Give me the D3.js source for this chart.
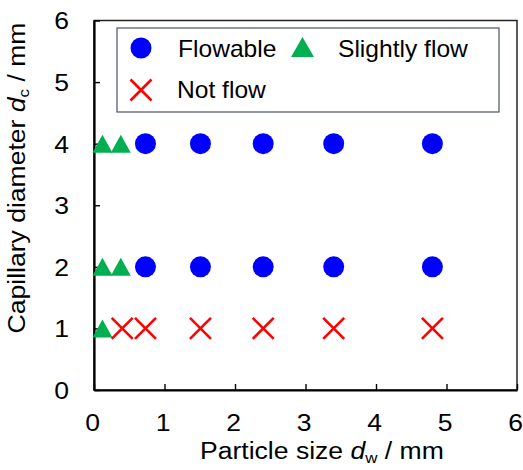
<!DOCTYPE html>
<html>
<head>
<meta charset="utf-8">
<style>
  body { margin: 0; background: #fff; }
  text { font-family: "Liberation Sans", Arial, sans-serif; fill: #000; }
</style>
</head>
<body>
<svg width="523" height="470"></svg>
<script src="https://d3js.org/d3.v7.min.js"></script>
<script>
  // particle size d_w (mm), capillary diameter d_c (mm)
  var flowable = [
    [0.73, 4], [1.51, 4], [2.4, 4], [3.4, 4], [4.8, 4],
    [0.73, 2], [1.51, 2], [2.4, 2], [3.4, 2], [4.8, 2]
  ];
  var slightlyFlow = [
    [0.12, 4], [0.38, 4],
    [0.12, 2], [0.38, 2],
    [0.12, 1]
  ];
  var notFlow = [
    [0.4, 1], [0.73, 1], [1.51, 1], [2.4, 1], [3.4, 1], [4.8, 1]
  ];
  var xTicks = [0, 1, 2, 3, 4, 5, 6];
  var yTicks = [0, 1, 2, 3, 4, 5, 6];

  var svg = d3.select("svg"),
      margin = {top: 20.5, right: 6, bottom: 80, left: 94},
      width = +svg.attr("width") - margin.left - margin.right,
      height = +svg.attr("height") - margin.top - margin.bottom,
      g = svg.append("g").attr("transform", "translate(" + margin.left + "," + margin.top + ")");

  var stretch = "scale(1.13,1)";
  var legendStretch = "scale(1.07,1)";

  var x = d3.scaleLinear().domain([0, 6]).range([0, width]);
  var y = d3.scaleLinear().domain([0, 6]).range([height, 0]);

  // frame (top / right)
  g.append("rect")
      .attr("width", width)
      .attr("height", height)
      .attr("fill", "none")
      .attr("stroke", "#222")
      .attr("stroke-width", 1.5);

  var xAxis = g.append("g")
      .attr("transform", "translate(0," + height + ")")
      .call(d3.axisBottom(x).tickValues(xTicks).tickSize(-6).tickSizeOuter(0).tickFormat(d3.format("d")));

  var yAxis = g.append("g")
      .call(d3.axisLeft(y).tickValues(yTicks).tickSize(-6).tickSizeOuter(0).tickFormat(d3.format("d")));

  [xAxis, yAxis].forEach(function(a) {
    a.select(".domain").attr("stroke", "#000").attr("stroke-width", 2.2);
    a.selectAll(".tick line").attr("stroke", "#000").attr("stroke-width", 1.4);
    a.selectAll(".tick text")
        .attr("font-family", "Liberation Sans, Arial, sans-serif")
        .attr("font-size", 23.5)
        .attr("fill", "#000");
  });

  xAxis.selectAll(".tick text")
      .attr("y", null).attr("dy", null)
      .attr("transform", "translate(-1.8,41) " + stretch);

  yAxis.selectAll(".tick text")
      .attr("x", null).attr("dy", null)
      .attr("transform", "translate(-25,8.4) " + stretch);

  // markers
  function triangle(w, h) {
    return "M0," + (-h / 2) + "L" + (w / 2) + "," + (h / 2) + "L" + (-w / 2) + "," + (h / 2) + "Z";
  }

  function cross(sel, s) {
    sel.append("path")
        .attr("d", "M" + (-s) + "," + (-s) + "L" + s + "," + s + "M" + (-s) + "," + s + "L" + s + "," + (-s))
        .attr("fill", "none")
        .attr("stroke", "#ff0000")
        .attr("stroke-width", 2.6);
  }

  g.selectAll(".flow")
      .data(flowable)
      .enter().append("circle")
      .attr("cx", function(d) { return x(d[0]); })
      .attr("cy", function(d) { return y(d[1]); })
      .attr("r", 10.5)
      .attr("fill", "#0000ff");

  g.selectAll(".slight")
      .data(slightlyFlow)
      .enter().append("path")
      .attr("transform", function(d) { return "translate(" + x(d[0]) + "," + y(d[1]) + ")"; })
      .attr("d", triangle(20, 18))
      .attr("fill", "#00b050");

  g.selectAll(".not")
      .data(notFlow)
      .enter().append("g")
      .attr("transform", function(d) { return "translate(" + x(d[0]) + "," + y(d[1]) + ")"; })
      .each(function() { cross(d3.select(this), 10.5); });

  // legend
  var lg = svg.append("g");
  lg.append("rect")
      .attr("x", 117).attr("y", 28)
      .attr("width", 382).attr("height", 84)
      .attr("fill", "#fff")
      .attr("stroke", "#44546a")
      .attr("stroke-width", 1.2);

  lg.append("circle").attr("cx", 141).attr("cy", 48).attr("r", 10.5).attr("fill", "#0000ff");
  lg.append("path").attr("transform", "translate(302.5,47)").attr("d", triangle(23, 20)).attr("fill", "#00b050");
  cross(lg.append("g").attr("transform", "translate(141,90)"), 10.5);

  var legendItems = [
    {label: "Flowable", x: 178, y: 57},
    {label: "Slightly flow", x: 338, y: 57},
    {label: "Not flow", x: 177, y: 98}
  ];
  lg.selectAll(".lt")
      .data(legendItems)
      .enter().append("text")
      .attr("transform", function(d) { return "translate(" + d.x + "," + d.y + ") " + legendStretch; })
      .attr("font-size", 23)
      .text(function(d) { return d.label; });

  // axis titles
  var xt = svg.append("text")
      .attr("transform", "translate(200,459) " + stretch)
      .attr("font-size", 23.5);
  xt.append("tspan").text("Particle size ");
  xt.append("tspan").attr("font-style", "italic").text("d");
  xt.append("tspan").attr("font-size", 15).attr("dy", 4).text("w");
  xt.append("tspan").attr("dy", -4).text(" / mm");

  var yt = svg.append("text")
      .attr("transform", "translate(25,178) rotate(-90) " + stretch)
      .attr("text-anchor", "middle")
      .attr("font-size", 23.5);
  yt.append("tspan").text("Capillary diameter ");
  yt.append("tspan").attr("font-style", "italic").text("d");
  yt.append("tspan").attr("font-size", 15).attr("dy", 4).text("c");
  yt.append("tspan").attr("dy", -4).text(" / mm");
</script>
</body>
</html>
